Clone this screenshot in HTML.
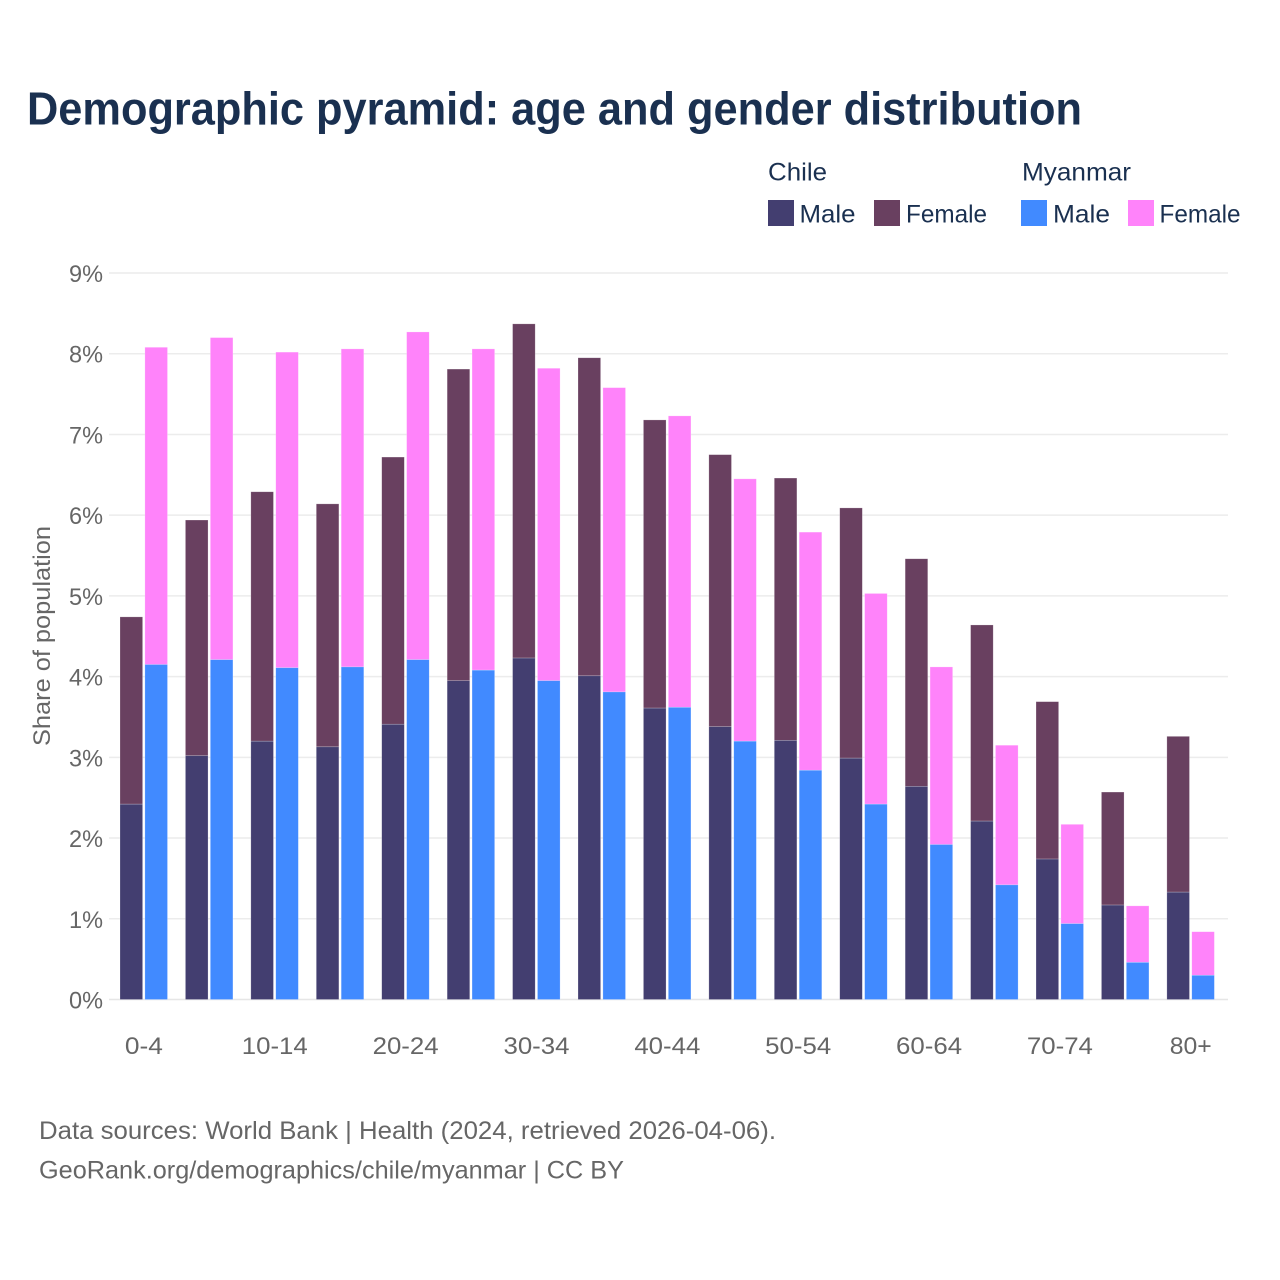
<!DOCTYPE html>
<html lang="en">
<head>
<meta charset="utf-8">
<title>Demographic pyramid: age and gender distribution</title>
<style>
html,body{margin:0;padding:0;background:#fff;width:1280px;height:1280px;overflow:hidden}
svg{display:block;font-family:"Liberation Sans",sans-serif}
</style>
</head>
<body>
<svg id="chart" xmlns="http://www.w3.org/2000/svg" width="1280" height="1280" viewBox="0 0 1280 1280">
  <rect width="1280" height="1280" fill="#ffffff"/>
  <text x="27" y="124.5" font-size="46" font-weight="700" fill="#1a3050" textLength="1055" lengthAdjust="spacingAndGlyphs">Demographic pyramid: age and gender distribution</text>

  <g font-size="25" fill="#1a3050">
    <text x="768" y="180.5" textLength="59" lengthAdjust="spacingAndGlyphs">Chile</text>
    <text x="1022" y="180.5" textLength="109" lengthAdjust="spacingAndGlyphs">Myanmar</text>
    <rect x="768" y="200" width="26" height="26" fill="#433e70"/>
    <text x="799.5" y="222.5" textLength="56" lengthAdjust="spacingAndGlyphs">Male</text>
    <rect x="874" y="200" width="26" height="26" fill="#694060"/>
    <text x="906" y="222.5" textLength="81" lengthAdjust="spacingAndGlyphs">Female</text>
    <rect x="1021" y="200" width="26" height="26" fill="#418aff"/>
    <text x="1053" y="222.5" textLength="57" lengthAdjust="spacingAndGlyphs">Male</text>
    <rect x="1128" y="200" width="26" height="26" fill="#ff83fa"/>
    <text x="1159.5" y="222.5" textLength="81" lengthAdjust="spacingAndGlyphs">Female</text>
  </g>

  <g id="grid"></g>
  <g id="bars"></g>
  <g id="y-axis"></g>
  <g id="x-axis"></g>

  <text transform="translate(50,636) rotate(-90)" text-anchor="middle" font-size="24" fill="#666666" textLength="220" lengthAdjust="spacingAndGlyphs">Share of population</text>

  <g font-size="25" fill="#666666">
    <text x="39" y="1139" textLength="737" lengthAdjust="spacingAndGlyphs">Data sources: World Bank | Health (2024, retrieved 2026-04-06).</text>
    <text x="39" y="1178.5" textLength="585" lengthAdjust="spacingAndGlyphs">GeoRank.org/demographics/chile/myanmar | CC BY</text>
  </g>
</svg>
<script>
const categories = ["0-4","5-9","10-14","15-19","20-24","25-29","30-34","35-39","40-44","45-49","50-54","55-59","60-64","65-69","70-74","75-79","80+"];
const chileMale = [2.42,3.02,3.20,3.13,3.41,3.95,4.23,4.01,3.61,3.38,3.21,2.99,2.64,2.21,1.74,1.17,1.33];
const chileFemale = [2.32,2.92,3.09,3.01,3.31,3.86,4.14,3.94,3.57,3.37,3.25,3.10,2.82,2.43,1.95,1.40,1.93];
const myanmarMale = [4.15,4.21,4.11,4.12,4.21,4.08,3.95,3.81,3.62,3.20,2.84,2.42,1.92,1.42,0.94,0.46,0.30];
const myanmarFemale = [3.93,3.99,3.91,3.94,4.06,3.98,3.87,3.77,3.61,3.25,2.95,2.61,2.20,1.73,1.23,0.70,0.54];
const yTicks = [0,1,2,3,4,5,6,7,8,9];

const NS = "http://www.w3.org/2000/svg";
const plotLeft = 109, plotRight = 1228, y0 = 999.5, pxPerUnit = 80.72;
const groupStart = 120, groupStep = 65.43, barWidth = 22.6, barOffset = 24.9;

function yScale(v) { return y0 - v * pxPerUnit; }
function xScale(i) { return groupStart + i * groupStep; }

const grid = document.getElementById("grid");
const barsG = document.getElementById("bars");
const yAxis = document.getElementById("y-axis");
const xAxis = document.getElementById("x-axis");

function makeText(str, x, y, anchor, width) {
  const t = document.createElementNS(NS, "text");
  t.textContent = str;
  t.setAttribute("x", x);
  t.setAttribute("y", y);
  t.setAttribute("text-anchor", anchor);
  t.setAttribute("font-size", "24");
  t.setAttribute("fill", "#666666");
  t.setAttribute("textLength", width);
  t.setAttribute("lengthAdjust", "spacingAndGlyphs");
  return t;
}

yTicks.forEach(function (v) {
  const line = document.createElementNS(NS, "line");
  
  
  line.setAttribute("x1", plotLeft);
  line.setAttribute("x2", plotRight);
  line.setAttribute("y1", yScale(v));
  line.setAttribute("y2", yScale(v));
  line.setAttribute("stroke", v === 0 ? "#e6e6e6" : "#ececec");
  line.setAttribute("stroke-width", "1.5");
  grid.appendChild(line);

  const label = makeText(v + "%", 103, yScale(v) + 9, "end", 34);
  
  
  yAxis.appendChild(label);
});

function addBar(x, bottomValue, value, color, name) {
  const r = document.createElementNS(NS, "rect");
  
  
  r.setAttribute("x", x);
  r.setAttribute("y", yScale(bottomValue + value));
  r.setAttribute("width", barWidth);
  r.setAttribute("height", value * pxPerUnit);
  r.setAttribute("fill", color);
  r.setAttribute("stroke", "#ffffff");
  r.setAttribute("stroke-opacity", "0.35");
  r.setAttribute("stroke-width", "0.6");
  barsG.appendChild(r);
}

categories.forEach(function (cat, i) {
  const x = xScale(i);
  addBar(x, chileMale[i], chileFemale[i], "#694060", "bar-chile-female");
  addBar(x, 0, chileMale[i], "#433e70", "bar-chile-male");
  addBar(x + barOffset, myanmarMale[i], myanmarFemale[i], "#ff83fa", "bar-myanmar-female");
  addBar(x + barOffset, 0, myanmarMale[i], "#418aff", "bar-myanmar-male");

  if (i % 2 === 0) {
    const width = cat.length === 5 ? 66 : (cat === "80+" ? 42 : 38);
    const label = makeText(cat, x + barOffset - 1, 1054, "middle", width);
    
    
    xAxis.appendChild(label);
  }
});
</script>
</body>
</html>
